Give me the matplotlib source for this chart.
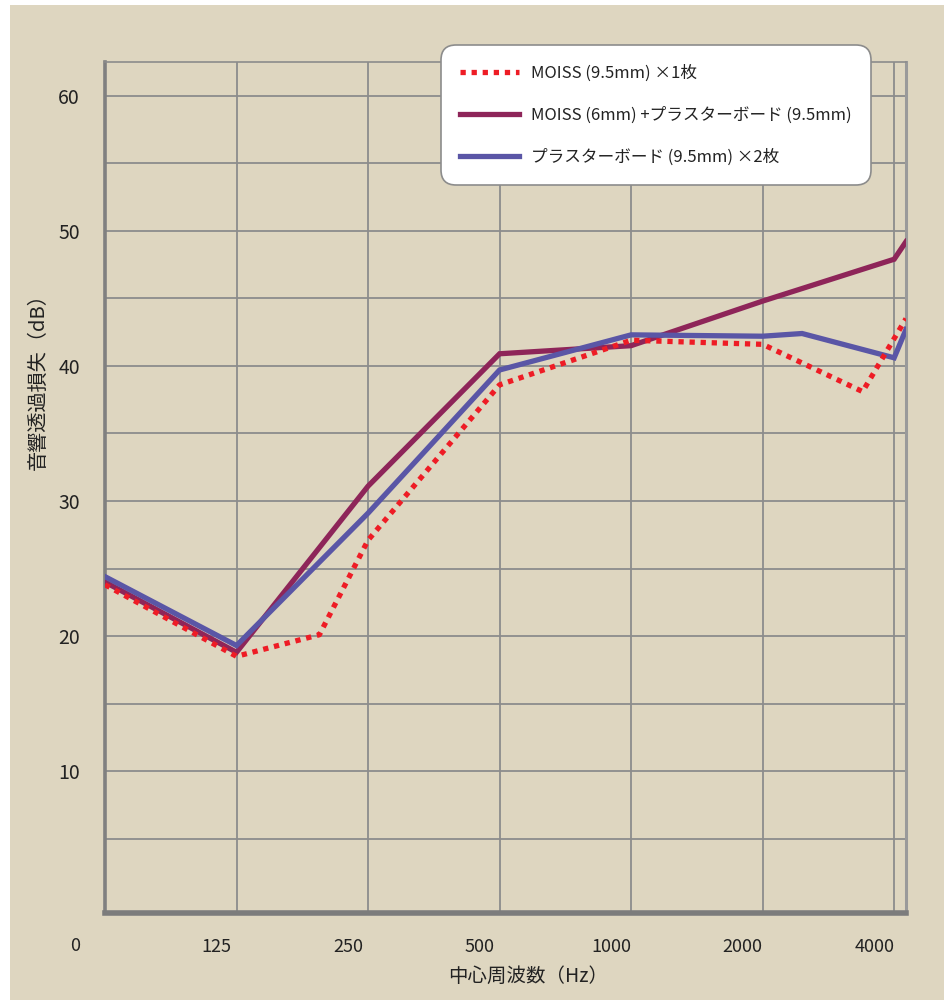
import matplotlib
matplotlib.use("Agg")

import matplotlib.pyplot as plt
import matplotlib.transforms as mtransforms
from matplotlib.patches import Rectangle

plt.rcParams['font.family'] = ['Noto Sans CJK JP', 'DejaVu Sans']

BG = "#ded6c0"
GRID = "#8c8c8c"

# ── data (x in octave steps: 0 = origin, 1 = 125 Hz ... 6 = 4000 Hz) ────────
freq_labels = ["125", "250", "500", "1000", "2000", "4000"]
freq_pos = [1, 2, 3, 4, 5, 6]

moiss_x = [0, 1, 1.63, 2, 3, 4, 5, 5.76, 6.09]
moiss_y = [23.8, 18.5, 20.1, 27.1, 38.6, 41.9, 41.6, 38.1, 43.5]

combo_x = [0, 1, 2, 3, 4, 5, 6, 6.09]
combo_y = [24.0, 18.8, 31.1, 40.9, 41.5, 44.8, 47.9, 49.2]

board_x = [0, 1, 2, 3, 4, 5, 5.3, 6, 6.09]
board_y = [24.4, 19.3, 29.1, 39.7, 42.3, 42.2, 42.4, 40.6, 42.7]

labels = ["MOISS (9.5mm) ×1枚",
          "MOISS (6mm) +プラスターボード (9.5mm)",
          "プラスターボード (9.5mm) ×2枚"]

# ── figure ───────────────────────────────────────────────────────────────────
fig = plt.figure(figsize=(9.44, 10), dpi=100)
fig.patch.set_facecolor("white")
fig.add_artist(Rectangle((10 / 944, 0), 1, 0.995, transform=fig.transFigure,
                         facecolor=BG, edgecolor="none", zorder=-5))

ax = fig.add_axes([105 / 944, 1 - 913 / 1000, (906 - 105) / 944, (913 - 62) / 1000])
ax.set_facecolor(BG)

l2, = ax.plot(combo_x, combo_y, color="#8e2559", lw=3.8, zorder=3,
              solid_joinstyle="miter", label=labels[1])
l3, = ax.plot(board_x, board_y, color="#5a56a6", lw=3.8, zorder=4,
              solid_joinstyle="miter", label=labels[2])
l1, = ax.plot(moiss_x, moiss_y, color="#ee1c25", lw=3.8, zorder=5,
              linestyle=(0, (1, 1.1)), dash_capstyle="butt", label=labels[0])

ax.set_xlim(0, 6.09)
ax.set_ylim(-0.5, 62.5)

ax.set_xticks(freq_pos)
ax.set_xticklabels(freq_labels, fontsize=13, color="#222222")
ax.set_yticks(range(10, 61, 10))
ax.set_yticks(range(5, 61, 10), minor=True)
ax.set_yticklabels([str(v) for v in range(10, 61, 10)], fontsize=14, color="#222222")
ax.tick_params(axis="both", which="both", length=0)
ax.tick_params(axis="x", pad=18)
ax.tick_params(axis="y", pad=18)

# x tick labels sit a little left of their grid lines
shift = mtransforms.ScaledTranslation(-20 / 100, 0, fig.dpi_scale_trans)
for t in ax.get_xticklabels():
    t.set_transform(t.get_transform() + shift)

ax.grid(True, which="both", color=GRID, lw=1.3, zorder=1)
ax.set_axisbelow(True)

for side, lw, col in [("left", 2.6, "#808080"), ("bottom", 4.0, "#7c7c7c"),
                      ("top", 1.2, "#8c8c8c"), ("right", 2.2, "#9a9a9a")]:
    ax.spines[side].set_linewidth(lw)
    ax.spines[side].set_color(col)

fig.text(75 / 944, 1 - 946 / 1000, "0", fontsize=13, color="#222222",
         ha="center", va="center")
fig.text(528 / 944, 1 - 976 / 1000, "中心周波数（Hz）", fontsize=14,
         color="#222222", ha="center", va="center")
fig.text(38 / 944, 1 - 377 / 1000, "音響透過損失（dB）", fontsize=14.5,
         color="#222222", ha="center", va="center", rotation=90)

leg = ax.legend(handles=[l1, l2, l3], loc="upper right",
                bbox_to_anchor=(871 / 944, 1 - 45 / 1000),
                bbox_transform=fig.transFigure, borderaxespad=0,
                fontsize=12, handlelength=3.5, handletextpad=0.75,
                labelspacing=1.5, borderpad=1.15, frameon=True, fancybox=True,
                framealpha=1)
leg.get_frame().set_edgecolor("#8c8c8c")
leg.get_frame().set_linewidth(1.2)
leg.get_frame().set_boxstyle("round,pad=0,rounding_size=0.9")
for t in leg.get_texts():
    t.set_color("#222222")

fig.savefig("out.png", dpi=100, facecolor=fig.get_facecolor())
